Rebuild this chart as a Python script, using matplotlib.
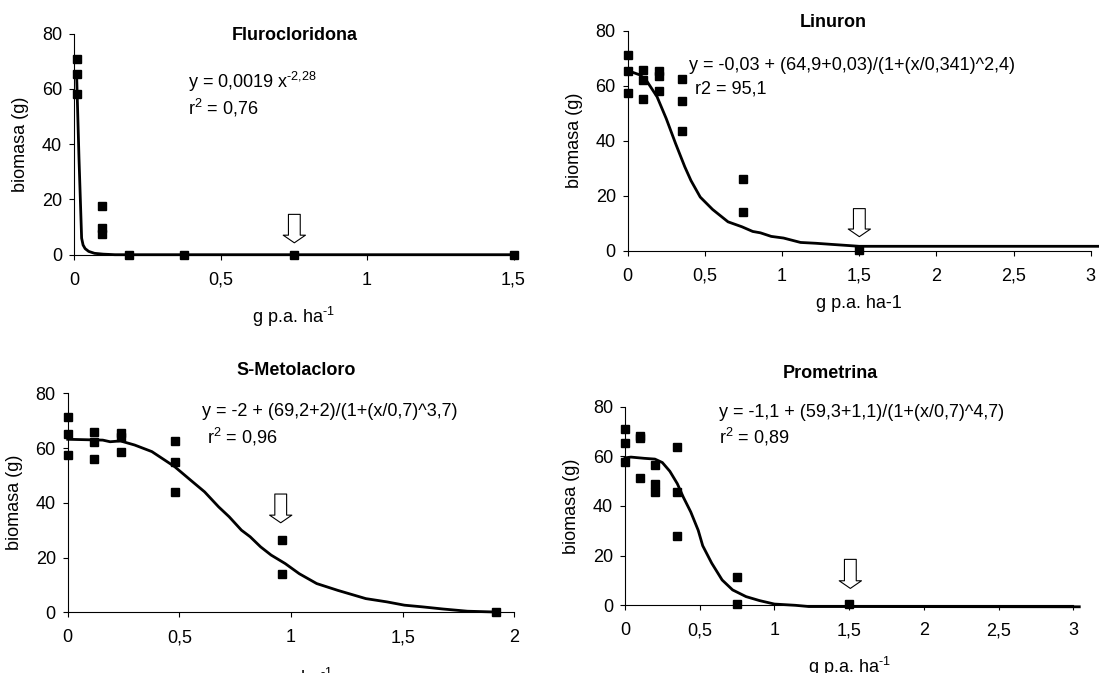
import matplotlib
matplotlib.use("Agg")
import matplotlib.pyplot as plt

plt.rcParams['font.family'] = ['Liberation Sans', 'DejaVu Sans']
plt.rcParams['mathtext.fontset'] = 'custom'
plt.rcParams['mathtext.rm'] = 'Liberation Sans'
plt.rcParams['mathtext.it'] = 'Liberation Sans'
plt.rcParams['mathtext.bf'] = 'Liberation Sans:bold'
plt.rcParams['mathtext.default'] = 'regular'
plt.rcParams['axes.unicode_minus'] = False

# ---------------- data ----------------
# Flurocloridona
flu_x = [0.009, 0.009, 0.009, 0.094, 0.094, 0.094, 0.1875, 0.375, 0.75, 1.5]
flu_y = [71, 65.5, 58, 17.5, 9.8, 7.5, 0, 0, 0, 0]
flu_cx = [0.009, 0.017, 0.026, 0.031, 0.038, 0.05, 0.07, 0.1, 0.14, 1.5]
flu_cy = [65, 35, 6, 3.5, 2.2, 1.2, 0.5, 0.2, 0, 0]
flu_ticks = [0, 0.5, 1, 1.5]
flu_labels = ['0', '0,5', '1', '1,5']

# Linuron
lin_x = [0, 0, 0, 0.1, 0.1, 0.1, 0.2, 0.2, 0.2, 0.35, 0.35, 0.35, 0.75, 0.75, 1.5]
lin_y = [71, 65.3, 57.5, 65.7, 62.1, 55.2, 65.3, 63.4, 58, 62.6, 54.4, 43.7, 26.2, 13.9, 0.2]
lin_cx = [0, 0.08, 0.12, 0.19, 0.25, 0.31, 0.37, 0.41, 0.47, 0.55, 0.65, 0.74, 0.81, 0.86,
          0.93, 1.01, 1.12, 1.22, 1.32, 1.45, 1.5, 3.05]
lin_cy = [65.5, 63.9, 62, 56, 48, 39, 30.5, 25.5, 19.5, 15, 10.5, 8.7, 7, 6.5,
          5.2, 4.6, 3.0, 2.7, 2.3, 1.8, 1.6, 1.6]
lin_ticks = [0, 0.5, 1, 1.5, 2, 2.5, 3]
lin_labels = ['0', '0,5', '1', '1,5', '2', '2,5', '3']

# S-Metolacloro
met_x = [0, 0, 0, 0.12, 0.12, 0.12, 0.24, 0.24, 0.24, 0.48, 0.48, 0.48, 0.96, 0.96, 1.92]
met_y = [71.5, 65.3, 57.5, 65.7, 62.1, 55.9, 65.4, 63.9, 58.4, 62.7, 54.9, 43.9, 26.3, 13.9, 0.1]
met_cx = [0, 0.157, 0.19, 0.236, 0.3, 0.377, 0.479, 0.55, 0.613, 0.676, 0.723, 0.778,
          0.817, 0.864, 0.911, 0.974, 1.037, 1.115, 1.21, 1.335, 1.43, 1.508, 1.587,
          1.681, 1.79, 1.917]
met_cy = [63.2, 62.9, 62.3, 62.6, 61.1, 58.7, 53.2, 48.3, 44, 38.5, 34.9, 30,
          27.6, 23.9, 20.9, 17.8, 14.1, 10.5, 8, 5, 3.8, 2.6, 2.0,
          1.2, 0.4, 0.1]
met_ticks = [0, 0.5, 1, 1.5, 2]
met_labels = ['0', '0,5', '1', '1,5', '2']

# Prometrina
pro_x = [0, 0, 0, 0.1, 0.1, 0.1, 0.2, 0.2, 0.2, 0.35, 0.35, 0.35, 0.75, 0.75, 1.5]
pro_y = [71.2, 65.4, 57.7, 67.2, 68, 51.4, 56.6, 48.7, 45.8, 63.7, 45.6, 28, 11.5, 0.4, 0.5]
pro_cx = [0, 0.04, 0.13, 0.2, 0.25, 0.3, 0.35, 0.39, 0.44, 0.49, 0.52, 0.58, 0.65,
          0.72, 0.81, 0.9, 1.0, 1.14, 1.23, 1.5, 3.04]
pro_cy = [59.4, 59.7, 59.2, 58.9, 57.5, 54, 49, 43.6, 37.6, 30.2, 24, 17, 10.2,
          6.2, 3.5, 1.9, 0.5, 0, -0.5, -0.5, -0.6]
pro_ticks = [0, 0.5, 1, 1.5, 2, 2.5, 3]
pro_labels = ['0', '0,5', '1', '1,5', '2', '2,5', '3']

y_ticks = [0, 20, 40, 60, 80]

W, H = 1099, 673
fig = plt.figure(figsize=(W / 100, H / 100), dpi=100)

FS = 13


def panel(px_left, px_right, px_top, px_bottom, xmax, px, py, cx, cy, ticks, labels,
          title, title_xy, eq, eq_xy, r2, r2_xy, arrow, xlabel, xlab_top):
    ax = fig.add_axes([px_left / W, 1 - px_bottom / H,
                       (px_right - px_left) / W, (px_bottom - px_top) / H])
    wpx = px_right - px_left
    hpx = px_bottom - px_top
    ax.plot(cx, cy, color='black', lw=2.0, clip_on=False, zorder=3)
    ax.plot(px, py, 's', color='black', ms=6, clip_on=False, zorder=4)
    ax.set_xlim(0, xmax)
    ax.set_ylim(0, 80)
    ax.set_xticks(ticks)
    ax.set_xticklabels(labels)
    ax.set_yticks(y_ticks)
    ax.set_yticklabels([str(v) for v in y_ticks])
    for s in ['top', 'right']:
        ax.spines[s].set_visible(False)
    for s in ['left', 'bottom']:
        ax.spines[s].set_linewidth(0.8)
        ax.spines[s].set_color('black')
    ax.tick_params(axis='x', direction='out', length=3.6, width=0.8, labelsize=FS, pad=8.5)
    ax.tick_params(axis='y', direction='out', length=3.6, width=0.8, labelsize=FS, pad=5)
    ax.set_ylabel('biomasa (g)', fontsize=FS)
    ax.yaxis.label.set_va('center')
    ax.yaxis.set_label_coords(-53 / wpx, 0.5)
    ax.set_xlabel(xlabel, fontsize=FS)
    ax.xaxis.set_label_coords(0.5, -xlab_top / hpx)
    ax.text(title_xy[0], title_xy[1], title, fontsize=FS, fontweight='bold',
            ha='center', va='center')
    ax.text(eq_xy[0], eq_xy[1], eq, fontsize=FS, ha='left', va='center')
    ax.text(r2_xy[0], r2_xy[1], r2, fontsize=FS, ha='left', va='center')
    ax_x, a_top, a_tip = arrow
    ax.annotate('', xy=(ax_x, a_tip), xytext=(ax_x, a_top),
                arrowprops=dict(arrowstyle='simple,head_length=0.55,head_width=1.6,tail_width=0.85',
                                fc='white', ec='black', lw=0.8, mutation_scale=10,
                                shrinkA=0, shrinkB=0), zorder=5)
    return ax


panel(74, 513.5, 33.7, 254.7, 1.5, flu_x, flu_y, flu_cx, flu_cy, flu_ticks, flu_labels,
      'Flurocloridona', (0.754, 79.5),
      r'y = 0,0019 x$^{\text{-2,28}}$', (0.389, 62.7), 'r$^{2}$ = 0,76', (0.389, 53.0),
      (0.752, 14.6, 4.3), r'g p.a. ha$^{\text{-1}}$', 50)

panel(627.7, 1090.7, 30.7, 250.7, 3.0, lin_x, lin_y, lin_cx, lin_cy, lin_ticks, lin_labels,
      'Linuron', (1.331, 83.0),
      'y = -0,03 + (64,9+0,03)/(1+(x/0,341)^2,4)', (0.396, 67.3), 'r2 = 95,1', (0.435, 58.9),
      (1.501, 15.3, 5.1), 'g p.a. ha-1', 44.5)

panel(67.7, 514.3, 393.3, 612.3, 2.0, met_x, met_y, met_cx, met_cy, met_ticks, met_labels,
      'S-Metolacloro', (1.021, 88.3),
      'y = -2 + (69,2+2)/(1+(x/0,7)^3,7)', (0.600, 73.3), 'r$^{2}$ = 0,96', (0.625, 63.9),
      (0.954, 43.2, 32.7), r'g p.a. ha$^{\text{-1}}$', 54)

panel(625, 1073.3, 406.7, 605.3, 3.0, pro_x, pro_y, pro_cx, pro_cy, pro_ticks, pro_labels,
      'Prometrina', (1.373, 93.4),
      'y = -1,1 + (59,3+1,1)/(1+(x/0,7)^4,7)', (0.626, 77.7), 'r$^{2}$ = 0,89', (0.626, 67.7),
      (1.508, 18.5, 6.8), r'g p.a. ha$^{\text{-1}}$', 50)

fig.savefig('out.png', dpi=100)
